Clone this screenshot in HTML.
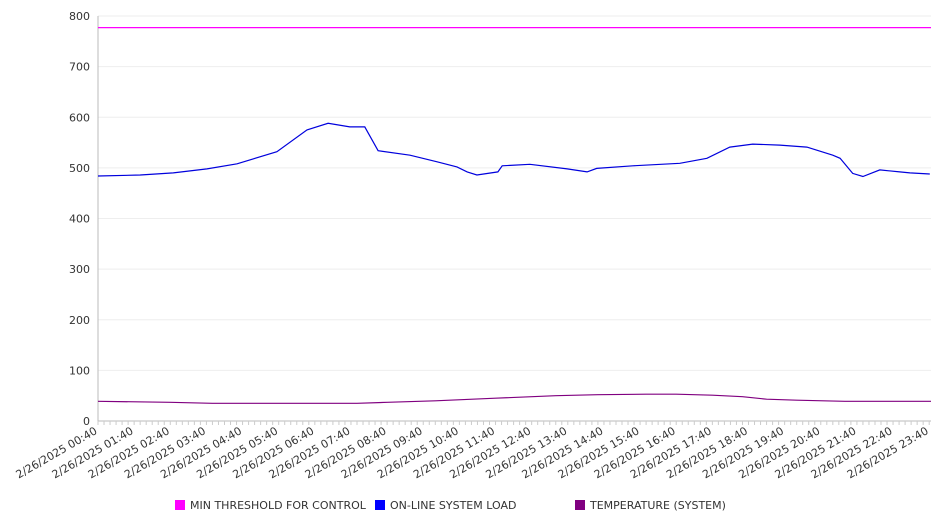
<!DOCTYPE html>
<html><head><meta charset="utf-8"><style>
body{margin:0;background:#fff;font-family:"DejaVu Sans","Liberation Sans",sans-serif;}
svg text{font-family:"DejaVu Sans","Liberation Sans",sans-serif;fill:#333;font-size:11px;}
</style></head><body>
<svg id="chart" width="946" height="526" xmlns="http://www.w3.org/2000/svg"></svg>
<script>
const yTicks=[0,100,200,300,400,500,600,700,800];
const xTickLabels=["2/26/2025 00:40","2/26/2025 01:40","2/26/2025 02:40","2/26/2025 03:40","2/26/2025 04:40","2/26/2025 05:40","2/26/2025 06:40","2/26/2025 07:40","2/26/2025 08:40","2/26/2025 09:40","2/26/2025 10:40","2/26/2025 11:40","2/26/2025 12:40","2/26/2025 13:40","2/26/2025 14:40","2/26/2025 15:40","2/26/2025 16:40","2/26/2025 17:40","2/26/2025 18:40","2/26/2025 19:40","2/26/2025 20:40","2/26/2025 21:40","2/26/2025 22:40","2/26/2025 23:40"];
const xTickMinutes=[40,100,160,220,280,340,400,460,520,580,640,700,760,820,880,940,1000,1060,1120,1180,1240,1300,1360,1420];
const thresholdTimes=[40,1423];
const thresholdValues=[777,777];
const loadTimes=[40,110,165,221,271,337,387,422,458,483,505,558,603,636,653,669,704,711,757,819,852,868,928,1006,1051,1089,1127,1172,1217,1260,1272,1293,1310,1338,1371,1388,1421];
const loadValues=[484,486,490,498,508,532,575,588,581,581,534,525,512,502,492,486,492,504,507,498,492,499,504,509,519,541,547,545,541,525,519,489,483,496,492,490,488];
const tempTimes=[40,160,230,400,470,520,600,700,800,870,950,1000,1060,1110,1150,1200,1280,1423];
const tempValues=[39,37,35,35,35,37,40,45,50,52,53,53,51,48,43,41,39,39];
const NS="http://www.w3.org/2000/svg";
const svg=document.getElementById('chart');
const X0=98,X1=931,Y0=421,Y1=16,T0=40,T1=1423;
const xs=t=>X0+(t-T0)/(T1-T0)*(X1-X0);
const ys=v=>Y0-v/800*(Y0-Y1);
function mk(tag,attrs){const e=document.createElementNS(NS,tag);for(const k in attrs)e.setAttribute(k,attrs[k]);svg.appendChild(e);return e;}
yTicks.forEach(v=>{
 const g=mk('line',{x1:X0,x2:X1,y1:ys(v),y2:ys(v),stroke:v===0?'#bbb':'#eee','stroke-width':1});
 
 
 const t=mk('text',{x:90,y:ys(v)+4,'text-anchor':'end'});t.textContent=v;
 
 
});
const ax=mk('line',{x1:X0,x2:X0,y1:Y1,y2:Y0,stroke:'#bbb'});


for(let t=T0;t<=T1;t+=10){
 const m=mk('line',{x1:xs(t),x2:xs(t),y1:Y0,y2:Y0+4,stroke:'#ccc'});
 
 
}
xTickLabels.forEach((l,i)=>{
 const x=xs(xTickMinutes[i]);
 const t=mk('text',{x:x,y:Y0+12,'text-anchor':'end',transform:`rotate(-30 ${x} ${Y0+12})`});
 t.textContent=l;
 
 
});
function line(times,vals,color,name){
 const d=times.map((t,i)=>(i?'L':'M')+xs(t).toFixed(1)+','+ys(vals[i]).toFixed(1)).join('');
 const p=mk('path',{d:d,fill:'none',stroke:color,'stroke-width':1.2});
 
 
}
line(thresholdTimes,thresholdValues,'#ff00ff','threshold-line');
line(loadTimes,loadValues,'#0000dd','load-line');
line(tempTimes,tempValues,'#800080','temperature-line');
[['#ff00ff','MIN THRESHOLD FOR CONTROL',175],['#0000ff','ON-LINE SYSTEM LOAD',375],['#800080','TEMPERATURE (SYSTEM)',575]].forEach(([c,l,x])=>{
 const r=mk('rect',{x:x,y:500,width:10,height:10,fill:c});
 
 
 const t=mk('text',{x:x+15,y:509});t.textContent=l;
 
 
});
</script>
</body></html>
